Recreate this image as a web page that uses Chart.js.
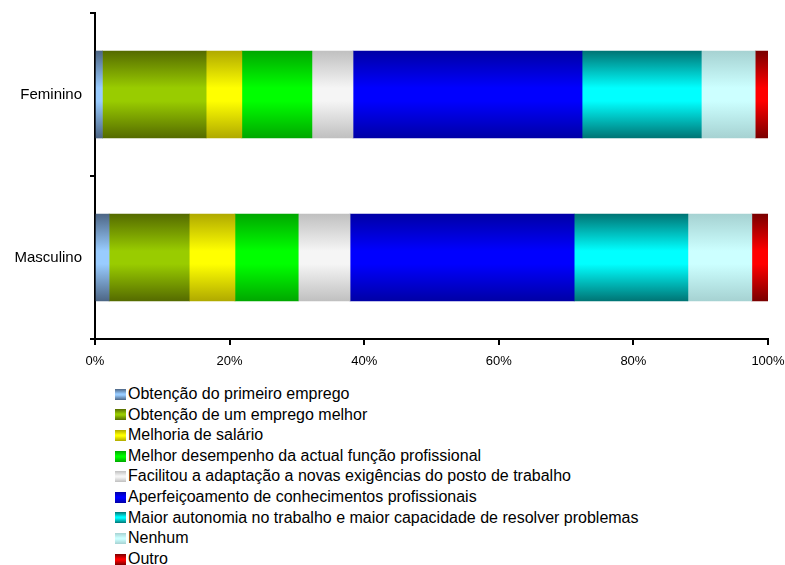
<!DOCTYPE html>
<html>
<head>
<meta charset="utf-8">
<script src="https://cdn.jsdelivr.net/npm/chart.js@4.4.1/dist/chart.umd.min.js"></script>
<style>
  body { margin: 0; background: #fff; font-family: "Liberation Sans", Arial, sans-serif; }
  #wrap { position: relative; width: 785px; height: 565px; }
  #chartBox { position: absolute; left: 0; top: 0; width: 785px; height: 375px; }
  #legend { position: absolute; left: 115px; top: 384px; font-size: 16px; color: #000; }
  #legend .row { height: 20.6px; line-height: 20.6px; display: flex; align-items: center; white-space: nowrap; }
  #legend .box { width: 11px; height: 11px; margin-right: 2px; border: 0; }
</style>
</head>
<body>
<div id="wrap">
  <div id="chartBox"><canvas id="barChart"></canvas></div>
  <div id="legend"></div>
</div>
<script>
const categories = ['Feminino', 'Masculino'];
const seriesNames = [
    'Obtenção do primeiro emprego',
    'Obtenção de um emprego melhor',
    'Melhoria de salário',
    'Melhor desempenho da actual função profissional',
    'Facilitou a adaptação a novas exigências do posto de trabalho',
    'Aperfeiçoamento de conhecimentos profissionais',
    'Maior autonomia no trabalho e maior capacidade de resolver problemas',
    'Nenhum',
    'Outro'
];
const feminino = [1.1, 15.4, 5.3, 10.4, 6.1, 34.0, 17.7, 8.0, 1.9];
const masculino = [2.1, 11.9, 6.8, 9.4, 7.7, 33.3, 16.9, 9.5, 2.4];
const xTicks = [0, 20, 40, 60, 80, 100];

const edgeColors = ['#4d6685', '#556b00', '#b0aa00', '#00a800', '#c0c0c0', '#0000a6', '#007575', '#a6d2d2', '#7a0000'];
const midColors = ['#99ccff', '#99cc00', '#ffff00', '#00ff00', '#f5f5f5', '#0000ff', '#00ffff', '#ccffff', '#ff0000'];

const BAR_THICK = 87;

// 100% stacked: each row as share of its total
function toPercent(row) {
    const total = row.reduce((a, b) => a + b, 0);
    return row.map(v => v / total * 100);
}
const femPct = toPercent(feminino);
const mascPct = toPercent(masculino);

function barGradient(context, i) {
    const chart = context.chart;
    const area = chart.chartArea;
    const yScale = chart.scales.y;
    if (!area || !yScale) return midColors[i];
    const h = area.bottom - area.top;
    const g = chart.ctx.createLinearGradient(0, area.top, 0, area.bottom);
    const f = y => Math.min(1, Math.max(0, (y - area.top) / h));
    const half = BAR_THICK / 2;
    categories.forEach((c, k) => {
        const cy = yScale.getPixelForValue(k);
        g.addColorStop(f(cy - half), edgeColors[i]);
        g.addColorStop(f(cy - half * 0.15), midColors[i]);
        g.addColorStop(f(cy + half * 0.15), midColors[i]);
        g.addColorStop(f(cy + half), edgeColors[i]);
    });
    return g;
}

const datasets = seriesNames.map((name, i) => ({
    label: name,
    data: [femPct[i], mascPct[i]],
    backgroundColor: ctx => barGradient(ctx, i),
    borderWidth: 0,
    barThickness: BAR_THICK
}));

const chart = new Chart(document.getElementById('barChart'), {
    type: 'bar',
    data: { labels: categories, datasets: datasets },
    options: {
        indexAxis: 'y',
        responsive: true,
        maintainAspectRatio: false,
        animation: false,
        layout: { padding: { left: 0, right: 17, top: 13, bottom: 0 } },
        plugins: { legend: { display: false }, tooltip: { enabled: false } },
        scales: {
            x: {
                stacked: true,
                min: 0,
                max: 100,
                afterBuildTicks: scale => { scale.ticks = xTicks.map(v => ({ value: v })); },
                afterFit: scale => {
                    scale.height = 36;
                    scale.paddingLeft = 0;
                    scale.paddingRight = 0;
                },
                ticks: {
                    callback: v => v + '%',
                    color: '#000',
                    font: { family: 'Liberation Sans', size: 13 },
                    padding: 9,
                    maxRotation: 0
                },
                grid: { drawOnChartArea: false, color: '#000', tickLength: 6, lineWidth: 2 },
                border: { color: '#000', width: 2 }
            },
            y: {
                stacked: true,
                afterFit: scale => {
                    scale.width = 95;
                    scale.paddingTop = 0;
                    scale.paddingBottom = 0;
                },
                ticks: {
                    color: '#000',
                    font: { family: 'Liberation Sans', size: 15 },
                    padding: 8
                },
                grid: { drawOnChartArea: false, color: '#000', tickLength: 5, lineWidth: 2 },
                border: { color: '#000', width: 2 }
            }
        }
    }
});
chart.update();

// legend, one item per row
const legendEl = document.getElementById('legend');
seriesNames.forEach((name, i) => {
    const row = document.createElement('div');
    row.className = 'row';
    const box = document.createElement('span');
    box.className = 'box';
    box.style.background = 'linear-gradient(' + edgeColors[i] + ', ' + midColors[i] + ' 45%, ' + midColors[i] + ' 55%, ' + edgeColors[i] + ')';
    const txt = document.createElement('span');
    txt.textContent = name;
    row.appendChild(box);
    row.appendChild(txt);
    legendEl.appendChild(row);
});
</script>
</body>
</html>
